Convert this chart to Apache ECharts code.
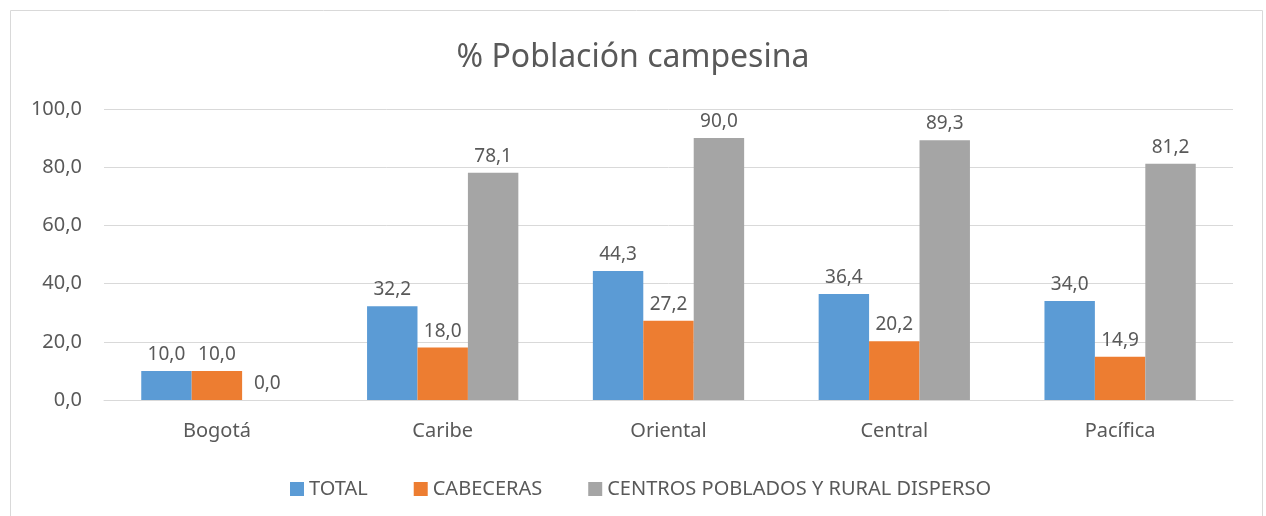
<!DOCTYPE html>
<html>
<head>
<meta charset="utf-8">
<script src="https://cdn.jsdelivr.net/npm/echarts@6/dist/echarts.min.js"></script>
<style>
  html, body { margin: 0; padding: 0; background: #fff; }
  #chart { width: 1266px; height: 516px; }
</style>
</head>
<body>
<div id="chart"></div>
<script>
// datos
var categories = ['Bogotá', 'Caribe', 'Oriental', 'Central', 'Pacífica'];
var seriesNames = ['TOTAL', 'CABECERAS', 'CENTROS POBLADOS Y RURAL DISPERSO'];
var total = [10.0, 32.2, 44.3, 36.4, 34.0];
var cabeceras = [10.0, 18.0, 27.2, 20.2, 14.9];
var centros = [0.0, 78.1, 90.0, 89.3, 81.2];
var yTicks = [0, 20, 40, 60, 80, 100];

var colors = ['#5B9BD5', '#ED7D31', '#A5A5A5'];
var txt = '#595959';
var font = 'Noto Sans';

function coma(v) {
  return Number(v).toFixed(1).replace('.', ',');
}

function barSerie(name, data, i) {
  return {
    name: name,
    type: 'bar',
    data: data,
    barGap: '0%',
    barCategoryGap: '33%',
    itemStyle: { color: colors[i] },
    label: {
      show: true,
      position: 'top',
      distance: 7,
      color: txt,
      fontFamily: font,
      fontSize: 19,
      formatter: function (p) { return coma(p.value); }
    }
  };
}

var myChart = echarts.init(document.getElementById('chart'));
myChart.setOption({
  animation: false,
  textStyle: { fontFamily: font },
  graphic: [{
    type: 'rect',
    shape: { x: 10.5, y: 10.5, width: 1252, height: 520 },
    style: { fill: null, stroke: '#D9D9D9', lineWidth: 1 },
    silent: true
  }],
  title: {
    text: '% Población campesina',
    left: 'center',
    top: 37,
    textStyle: { color: txt, fontFamily: font, fontSize: 32, fontWeight: 'normal' }
  },
  legend: {
    data: seriesNames,
    top: 474,
    left: 285,
    itemWidth: 14,
    itemHeight: 14,
    itemGap: 46,
    icon: 'rect',
    textStyle: { color: txt, fontFamily: font, fontSize: 20 }
  },
  grid: { left: 104, right: 33, top: 109, bottom: 116 },
  xAxis: {
    type: 'category',
    data: categories,
    axisLine: { lineStyle: { color: '#D9D9D9' } },
    axisTick: { show: false },
    axisLabel: { color: txt, fontFamily: font, fontSize: 20, margin: 21 }
  },
  yAxis: {
    type: 'value',
    min: yTicks[0],
    max: yTicks[yTicks.length - 1],
    interval: 20,
    axisLine: { show: false },
    axisTick: { show: false },
    splitLine: { lineStyle: { color: '#D9D9D9' } },
    axisLabel: { color: txt, fontFamily: font, fontSize: 20, margin: 22, formatter: coma }
  },
  series: [
    barSerie(seriesNames[0], total, 0),
    barSerie(seriesNames[1], cabeceras, 1),
    barSerie(seriesNames[2], centros, 2)
  ]
});
</script>
</body>
</html>
